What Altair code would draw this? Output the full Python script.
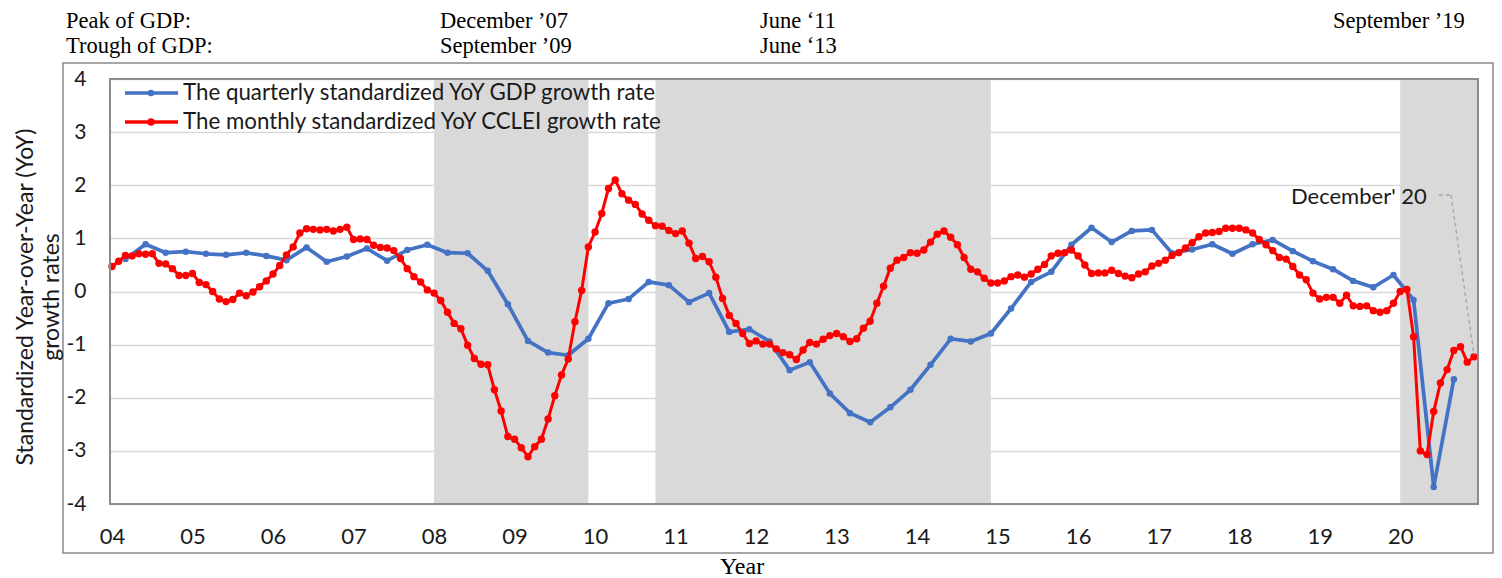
import altair as alt
import pandas as pd

# ---------------- data ----------------
year_labels = ["04", "05", "06", "07", "08", "09", "10", "11", "12",
               "13", "14", "15", "16", "17", "18", "19", "20"]

# monthly standardized YoY CCLEI growth rate, Jan 2004 .. Dec 2020
cclei = [
    0.47, 0.57, 0.68, 0.67, 0.71, 0.70, 0.71, 0.53, 0.52, 0.43, 0.30, 0.30,
    0.34, 0.17, 0.13, 0.00, -0.14, -0.19, -0.15, -0.03, -0.08, -0.01, 0.09, 0.20,
    0.33, 0.49, 0.69, 0.84, 1.10, 1.18, 1.17, 1.16, 1.17, 1.14, 1.17, 1.21,
    0.98, 0.99, 0.98, 0.87, 0.83, 0.82, 0.77, 0.62, 0.43, 0.28, 0.18, 0.03,
    -0.03, -0.17, -0.39, -0.60, -0.70, -1.01, -1.26, -1.37, -1.38, -1.85, -2.25, -2.73,
    -2.78, -2.94, -3.11, -2.92, -2.78, -2.40, -1.96, -1.57, -1.27, -0.57, 0.02, 0.84,
    1.12, 1.47, 1.94, 2.10, 1.84, 1.72, 1.64, 1.46, 1.34, 1.24, 1.23, 1.15,
    1.09, 1.14, 0.91, 0.62, 0.66, 0.56, 0.27, -0.13, -0.45, -0.60, -0.79, -0.98,
    -0.93, -0.99, -0.99, -1.08, -1.15, -1.19, -1.28, -1.10, -0.96, -0.99, -0.90, -0.83,
    -0.79, -0.85, -0.94, -0.89, -0.69, -0.56, -0.22, 0.10, 0.44, 0.59, 0.64, 0.73,
    0.72, 0.78, 0.93, 1.08, 1.14, 1.02, 0.88, 0.64, 0.42, 0.37, 0.25, 0.16,
    0.16, 0.20, 0.28, 0.31, 0.27, 0.33, 0.42, 0.51, 0.67, 0.72, 0.73, 0.78,
    0.67, 0.50, 0.34, 0.35, 0.35, 0.40, 0.34, 0.29, 0.26, 0.33, 0.37, 0.48,
    0.53, 0.59, 0.68, 0.73, 0.82, 0.92, 1.03, 1.10, 1.11, 1.13, 1.19, 1.19,
    1.19, 1.16, 1.10, 0.98, 0.88, 0.77, 0.64, 0.61, 0.47, 0.31, 0.22, -0.03,
    -0.14, -0.11, -0.11, -0.22, -0.07, -0.27, -0.28, -0.27, -0.36, -0.39, -0.36, -0.22,
    0.00, 0.04, -0.85, -3.00, -3.07, -2.26, -1.72, -1.47, -1.11, -1.04, -1.33, -1.23,
]

# quarterly standardized YoY GDP growth rate, Mar 2004 .. Sep 2020
gdp = [
    0.61, 0.89, 0.73, 0.75, 0.71, 0.69, 0.73, 0.67, 0.59, 0.83, 0.56, 0.66,
    0.81, 0.58, 0.78, 0.88, 0.73, 0.72, 0.39, -0.24, -0.93, -1.15, -1.20, -0.89,
    -0.22, -0.14, 0.18, 0.12, -0.20, -0.03, -0.76, -0.71, -0.94, -1.48, -1.33, -1.92,
    -2.29, -2.46, -2.18, -1.85, -1.38, -0.89, -0.94, -0.79, -0.32, 0.18, 0.37, 0.88,
    1.20, 0.93, 1.14, 1.16, 0.72, 0.79, 0.89, 0.71, 0.89, 0.97, 0.76, 0.57,
    0.42, 0.20, 0.08, 0.31, -0.16, -3.68, -1.65,
]
gdp_first_month = 2  # March 2004 (months counted from Jan 2004)

# shaded periods (month index from Jan 2004)
shade_start = [48, 81, 192]
shade_end = [71, 131, 203.6]

peak_labels = ["December \u201907", "June \u201811", "September \u201919"]
trough_labels = ["September \u201909", "June \u201813"]

series_names = ["The quarterly standardized YoY GDP growth rate",
                "The monthly standardized YoY CCLEI growth rate"]

# ---------------- tables ----------------
df_c = pd.DataFrame({"m": list(range(len(cclei))), "v": cclei})
df_g = pd.DataFrame({"m": [gdp_first_month + 3 * i for i in range(len(gdp))], "v": gdp})
df_s = pd.DataFrame({"s": shade_start, "e": shade_end})
one = pd.DataFrame({"k": [0]})

W, H = 1368, 425
BLUE = "#4472C4"
RED = "#FF0000"
SANS = "Lato"
SERIF = "Liberation Serif"
TXT = "#1a1a1a"

xscale = alt.Scale(domain=[-0.3, 203.6], nice=False, zero=False)
yscale = alt.Scale(domain=[-4, 4], nice=False, zero=False)

label_expr = "[" + ",".join("'%s'" % l for l in year_labels) + "][round(datum.value/12)]"

xaxis = alt.Axis(values=list(range(0, 12 * len(year_labels), 12)), labelExpr=label_expr,
                 title=None, grid=False, ticks=False, domain=False,
                 labelFont=SANS, labelFontSize=22, labelColor=TXT, labelPadding=22)
yaxis = alt.Axis(values=list(range(-4, 5)), title=None, grid=True, gridColor="#d9d9d9",
                 gridWidth=1.5, ticks=False, domain=False, labelExpr="toString(datum.value)",
                 labelFont=SANS, labelFontSize=21, labelColor=TXT, labelPadding=24)

shade = alt.Chart(df_s).mark_rect(color="#d9d9d9").encode(
    x=alt.X("s:Q", scale=xscale, axis=xaxis),
    x2="e:Q",
    y=alt.value(0), y2=alt.value(H),
)

grid_holder = alt.Chart(df_c).mark_point(opacity=0).encode(
    x=alt.X("m:Q", scale=xscale, axis=xaxis),
    y=alt.Y("v:Q", scale=yscale, axis=yaxis),
)

blue = alt.Chart(df_g).mark_line(
    color=BLUE, strokeWidth=3.7, strokeJoin="round",
    point=alt.OverlayMarkDef(color=BLUE, filled=True, size=42, opacity=1),
).encode(x=alt.X("m:Q", scale=xscale), y=alt.Y("v:Q", scale=yscale))

red = alt.Chart(df_c).mark_line(
    color=RED, strokeWidth=3, strokeJoin="round",
    point=alt.OverlayMarkDef(color=RED, filled=True, size=55, opacity=1),
).encode(x=alt.X("m:Q", scale=xscale), y=alt.Y("v:Q", scale=yscale))

layers = [grid_holder, shade, blue, red]

# outer frame
layers.append(alt.Chart(one).mark_rect(fill="white", fillOpacity=0, stroke="#898989",
                                       strokeWidth=1.5).encode(
    x=alt.value(-47), x2=alt.value(1383), y=alt.value(-16), y2=alt.value(474)))
# plot frame
layers.append(alt.Chart(one).mark_rect(fill="white", fillOpacity=0, stroke="#8c8c8c",
                                       strokeWidth=2).encode(
    x=alt.value(0), x2=alt.value(W), y=alt.value(0), y2=alt.value(H)))

# legend
for i, (name, col, sz) in enumerate(zip(series_names, [BLUE, RED], [42, 55])):
    yy = 14 + 29 * i
    layers.append(alt.Chart(one).mark_rule(color=col, strokeWidth=3.5).encode(
        x=alt.value(15), x2=alt.value(68), y=alt.value(yy)))
    layers.append(alt.Chart(one).mark_point(color=col, filled=True, size=sz, opacity=1).encode(
        x=alt.value(41), y=alt.value(yy)))
    layers.append(alt.Chart(one).mark_text(text=name, font=SANS, fontSize=22.3, color=TXT,
                                           align="left", baseline="middle").encode(
        x=alt.value(73), y=alt.value(yy)))


def txt(t, x, y, font=SERIF, size=22.5, align="left", angle=0, color="#000000"):
    kw = dict(text=t, font=font, fontSize=size, color=color, align=align, baseline="middle")
    if angle:
        kw["angle"] = angle
    return alt.Chart(one).mark_text(**kw).encode(x=alt.value(x), y=alt.value(y))


# header text
layers.append(txt("Peak of GDP:", -44, -58))
layers.append(txt("Trough of GDP:", -44, -33))
for t, xx in zip(peak_labels, [330, 650, 1223]):
    layers.append(txt(t, xx, -58))
for t, xx in zip(trough_labels, [330, 650]):
    layers.append(txt(t, xx, -33))

# axis titles
layers.append(txt("Year", 632, 488, size=24, align="center"))
layers.append(txt("Standardized Year-over-Year (YoY)", -84, 218, font=SANS, size=23,
                  align="center", angle=270, color=TXT))
layers.append(txt("growth rates", -58, 218, font=SANS, size=23,
                  align="center", angle=270, color=TXT))

# December' 20 annotation
layers.append(txt("December' 20", 1181, 118, font=SANS, size=22, color=TXT))
layers.append(alt.Chart(one).mark_rule(color="#a6a6a6", strokeWidth=1.3, strokeDash=[4, 3]).encode(
    x=alt.value(1329), x2=alt.value(1341), y=alt.value(116), y2=alt.value(116)))
layers.append(alt.Chart(one).mark_rule(color="#a6a6a6", strokeWidth=1.3, strokeDash=[4, 3]).encode(
    x=alt.value(1341), x2=alt.value(1364), y=alt.value(116), y2=alt.value(276)))

chart = alt.layer(*layers).properties(
    width=W, height=H,
    padding={"left": 102, "top": 71, "right": 16, "bottom": 74},
    autosize=alt.AutoSizeParams(type="none"),
).configure_view(stroke=None).configure(background="white")

chart.save("out.html", embed_options={"renderer": "svg", "actions": False})
